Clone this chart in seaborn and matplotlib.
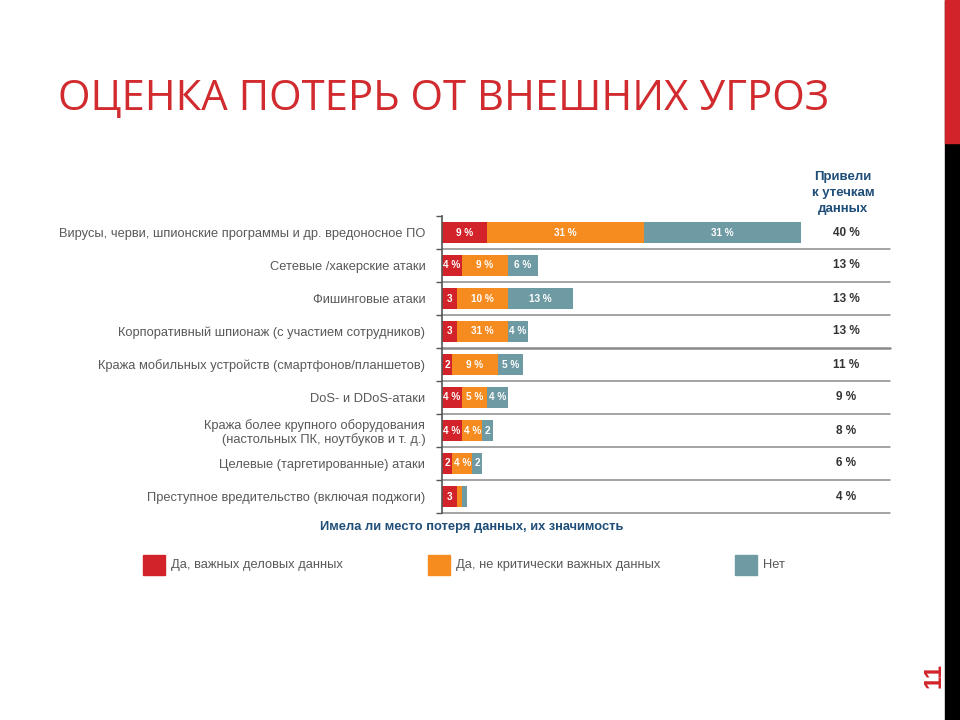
import matplotlib
matplotlib.use("Agg")
import matplotlib.pyplot as plt
import seaborn as sns
import pandas as pd
import numpy as np
from matplotlib.patches import Rectangle

categories = [
    "Вирусы, черви, шпионские программы и др. вредоносное ПО",
    "Сетевые /хакерские атаки",
    "Фишинговые атаки",
    "Корпоративный шпионаж (с участием сотрудников)",
    "Кража мобильных устройств (смартфонов/планшетов)",
    "DoS- и DDoS-атаки",
    "Кража более крупного оборудования\n(настольных ПК, ноутбуков и т. д.)",
    "Целевые (таргетированные) атаки",
    "Преступное вредительство (включая поджоги)",
]
# bar segment widths (%)
important = [9, 4, 3, 3, 2, 4, 4, 2, 3]
noncritical = [31, 9, 10, 10, 9, 5, 4, 4, 1]
no_loss = [31, 6, 13, 4, 5, 4, 2, 2, 1]
# printed segment labels
important_lbl = ["9 %", "4 %", "3", "3", "2", "4 %", "4 %", "2", "3"]
noncritical_lbl = ["31 %", "9 %", "10 %", "31 %", "9 %", "5 %", "4 %", "4 %", ""]
no_loss_lbl = ["31 %", "6 %", "13 %", "4 %", "5 %", "4 %", "2", "2", ""]
leaks = ["40 %", "13 %", "13 %", "13 %", "11 %", "9 %", "8 %", "6 %", "4 %"]
series_names = ["Да, важных деловых данных", "Да, не критически важных данных", "Нет"]

RED = "#D2232A"
ORANGE = "#F68B1F"
TEAL = "#6E9AA4"
GRAY_TXT = "#595959"
BLUE = "#1F4E79"

sns.set_theme(style="white")
plt.rcParams["font.family"] = ["Liberation Sans", "DejaVu Sans"]

df = pd.DataFrame({"cat": categories, "a": important, "b": noncritical, "c": no_loss})
df["ab"] = df["a"] + df["b"]
df["abc"] = df["ab"] + df["c"]

fig = plt.figure(figsize=(9.6, 7.2), dpi=100)
ax = fig.add_axes([442 / 960, 1 - 513 / 720, 448 / 960, 297 / 720])

bw = 0.62
sns.barplot(data=df, y="cat", x="abc", color=TEAL, orient="h", ax=ax, width=bw,
            saturation=1, linewidth=0)
sns.barplot(data=df, y="cat", x="ab", color=ORANGE, orient="h", ax=ax, width=bw,
            saturation=1, linewidth=0)
sns.barplot(data=df, y="cat", x="a", color=RED, orient="h", ax=ax, width=bw,
            saturation=1, linewidth=0)

ax.set_xlim(0, 448 / 5.05)
ax.set_ylim(len(categories) - 0.5, -0.5)

# segment labels
for i in range(len(categories)):
    segs = [(0, important[i], important_lbl[i]),
            (important[i], noncritical[i], noncritical_lbl[i]),
            (important[i] + noncritical[i], no_loss[i], no_loss_lbl[i])]
    for start, w, lbl in segs:
        if lbl:
            ax.text(start + w / 2, i, lbl, ha="center", va="center", color="white",
                    fontsize=7.2, fontweight="bold")
    ax.text(80, i, leaks[i], ha="center", va="center", color="#333333",
            fontsize=8.5, fontweight="bold")

# separators
for b in np.arange(0.5, len(categories), 1.0):
    lw = 1.8 if b == 3.5 else 1.1
    ax.axhline(b, color="#8A8A8A", lw=lw, xmin=0, xmax=1, clip_on=False)

ax.set_yticks(range(len(categories)))
ax.set_yticklabels(categories, fontsize=9.3, color=GRAY_TXT, linespacing=1.15)
ax.set_yticks(np.arange(-0.5, len(categories), 1.0), minor=True)
ax.tick_params(axis="y", which="major", length=0, pad=12)
ax.tick_params(axis="y", which="minor", length=4, color="#555555", width=1, left=True)
ax.set_xticks([])
ax.set_ylabel("")
ax.set_xlabel("")
for s in ["top", "right", "bottom"]:
    ax.spines[s].set_visible(False)
ax.spines["left"].set_color("#555555")
ax.spines["left"].set_linewidth(1.2)

# axis title
fig.text(472 / 960, 1 - 527 / 720, "Имела ли место потеря данных, их значимость",
         ha="center", va="center", color=BLUE, fontsize=9.3, fontweight="bold")
# column header
fig.text(843 / 960, 1 - 193 / 720, "Привели\nк утечкам\nданных", ha="center", va="center",
         color=BLUE, fontsize=9.5, fontweight="bold", linespacing=1.4)

# title
fig.text(58 / 960, 1 - 99 / 720, "ОЦЕНКА ПОТЕРЬ ОТ ВНЕШНИХ УГРОЗ", ha="left", va="center",
         color="#D12B2F", fontsize=30.2, family=["Open Sans", "DejaVu Sans"])

# legend
leg_items = [(143, RED, series_names[0]), (428, ORANGE, series_names[1]), (735, TEAL, series_names[2])]
for x0, col, name in leg_items:
    fig.patches.append(Rectangle((x0 / 960, 1 - 575 / 720), 22 / 960, 20 / 720,
                                 transform=fig.transFigure, color=col, zorder=3))
    fig.text((x0 + 28) / 960, 1 - 565 / 720, name, ha="left", va="center",
             color=GRAY_TXT, fontsize=9.3, family=["Liberation Sans Narrow", "Liberation Sans"])

# right edge strip
fig.patches.append(Rectangle((945 / 960, 0), 15 / 960, 1, transform=fig.transFigure,
                             color="black", zorder=3))
fig.patches.append(Rectangle((945 / 960, 1 - 143 / 720), 15 / 960, 143 / 720,
                             transform=fig.transFigure, color=RED, zorder=4))
fig.text(934 / 960, 1 - 676 / 720, "11", rotation=90, ha="center", va="center",
         color=RED, fontsize=17, fontweight="bold")

fig.savefig("out.png", dpi=100)
